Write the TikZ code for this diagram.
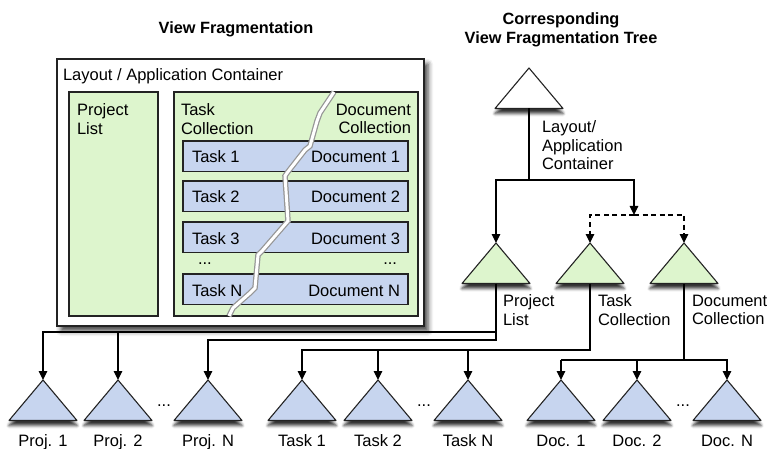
\documentclass[tikz,border=0pt]{standalone}
\usepackage{fontspec}
\setmainfont{Liberation Sans}
\usetikzlibrary{arrows.meta,shadows.blur,calc}

\definecolor{paneGreen}{RGB}{221,245,205}
\definecolor{rowBlue}{RGB}{199,213,239}
\definecolor{ink}{RGB}{35,35,35}
\definecolor{tearEdge}{RGB}{150,150,150}

% a view triangle: name, apex position, fill colour
\newcommand{\viewtri}[3]{%
  \coordinate (#1) at #2;
  \path[tri, fill=#3] (#1) -- ++(34,40.5) -- ++(-68,0) -- cycle;
  \coordinate (#1-b) at ($(#1)+(0,40.5)$);
}

\begin{document}
\begin{tikzpicture}[x=1pt, y=-1pt,
  every node/.style={inner sep=0pt, outer sep=0pt},
  txt/.style={font=\fontsize{16.5}{18.6}\selectfont},
  ttl/.style={font=\fontsize{16.3}{18.7}\selectfont\bfseries, align=center},
  box/.style={draw=ink, line width=1.1pt, rectangle, anchor=north west},
  pane/.style={box, fill=paneGreen, minimum height=224pt},
  row/.style={box, fill=rowBlue, minimum width=225pt, minimum height=30.5pt},
  tri/.style={draw=ink, line width=1.1pt, line join=round,
    blur shadow={shadow xshift=0pt, shadow yshift=-5pt, shadow blur radius=3pt, shadow opacity=80}},
  conn/.style={draw=black, line width=1.2pt},
  arr/.style={conn, -{Triangle[length=9pt,width=8.5pt]}},
  dasharr/.style={arr, dash pattern=on 5pt off 3.5pt},
]
\useasboundingbox (0,0) rectangle (768,449);

% ---------- titles ----------
\node[ttl, anchor=base] (t1) at (236,33.3) {View Fragmentation};
\node[ttl, anchor=north] (t2) at (561,12.5) {Corresponding\\View Fragmentation Tree};

% ---------- leaf rows of the tree ----------
\viewtri{p1}{(43,380)}{rowBlue}
\viewtri{p2}{(118,380)}{rowBlue}
\viewtri{pN}{(208,380)}{rowBlue}
\viewtri{k1}{(302,380)}{rowBlue}
\viewtri{k2}{(378,380)}{rowBlue}
\viewtri{kN}{(468,380)}{rowBlue}
\viewtri{d1}{(561,380)}{rowBlue}
\viewtri{d2}{(637,380)}{rowBlue}
\viewtri{dN}{(727,380)}{rowBlue}

\foreach \n/\s in {p1/Proj. 1, p2/Proj. 2, pN/Proj. N, k1/Task 1, k2/Task 2, kN/Task N, d1/Doc. 1, d2/Doc. 2, dN/Doc. N}
  \node[txt, anchor=base] (\n-l) at ($(\n)+(0,66.5)$) {\s};
\node[txt, anchor=base] (gapP) at (164,406) {...};
\node[txt, anchor=base] (gapK) at (424,406) {...};
\node[txt, anchor=base] (gapD) at (683,406) {...};

% ---------- middle level of the tree ----------
\viewtri{pl}{(496,243)}{paneGreen}
\viewtri{tc}{(590,243)}{paneGreen}
\viewtri{dc}{(684,243)}{paneGreen}
\node[txt, anchor=north west, align=left] (pl-l) at (503,295) {Project\\List};
\node[txt, anchor=north west, align=left] (tc-l) at (598,295) {Task\\Collection};
\node[txt, anchor=north west, align=left] (dc-l) at (692,295) {Document\\Collection};

% bus rows feeding the leaves
\coordinate (busP) at (0,332);
\coordinate (busN) at (0,340);
\coordinate (busK) at (0,350);
\coordinate (busD) at (0,360);

\draw[arr] (pl-b) -- (pl-b |- busP) -| (p1);
\draw[arr] (p2 |- busP) -- (p2);
\draw[arr] (pl-b) -- (pl-b |- busN) -| (pN);
\draw[arr] (tc-b) -- (tc-b |- busK) -| (k1);
\draw[arr] (k2 |- busK) -- (k2);
\draw[arr] (kN |- busK) -- (kN);
\draw[conn] (dc-b) -- (dc-b |- busD);
\draw[arr] (d1 |- busD) -- (d1);
\draw[arr] (d2 |- busD) -- (d2);
\draw[arr] (d1 |- busD) -| (dN);

% ---------- root of the tree ----------
\viewtri{root}{(529,68)}{white}
\node[txt, anchor=north west, align=left] (root-l) at (542,120.5) {Layout/\\Application\\Container};
\coordinate (split) at (529,180);
\coordinate (fork) at (634,215);
\draw[conn] (root-b) -- (split);
\draw[arr] (split) -| (pl);
\draw[arr] (split) -| (fork);
\draw[dasharr] (fork) -| (tc);
\draw[dasharr] (fork) -| (dc);

% ---------- the fragmented view ----------
\node[box, fill=white, minimum width=367pt, minimum height=267pt,
  blur shadow={shadow xshift=4pt, shadow yshift=-5pt, shadow blur radius=5pt, shadow opacity=75}] (app) at (57,59) {};
\node[txt, anchor=base west] (app-l) at (63,81) {Layout / Application Container};

\node[pane, minimum width=89pt] (plist) at (69,92) {};
\node[pane, minimum width=244pt] (coll) at (174,92) {};
\node[txt, anchor=north west, align=left] (plist-l) at (77,104) {Project\\List};
\node[txt, anchor=north west, align=left] (coll-t) at (181,104) {Task\\Collection};
\node[txt, anchor=north east, align=right] (coll-d) at (411,104) {Document\\Collection};

\node[row] (r1) at (183,141) {};
\node[row] (r2) at (183,181) {};
\node[row] (r3) at (183,222) {};
\node[row] (rN) at (183,274) {};

% the tear between the task half and the document half
\draw[white, line width=3pt, line join=miter,
  preaction={draw=tearEdge, line width=5.5pt}]
  (334,92) -- (320,113) -- (317,121) -- (310,146) -- (305,150) -- (287,173)
  -- (285,176) -- (288,221) -- (262,251) -- (258,255) -- (255,288)
  -- (250,293) -- (233,308) -- (229,316);

\foreach \r/\k in {r1/1, r2/2, r3/3, rN/N} {
  \node[txt, anchor=base west] (\r-t) at ($(\r.north west)+(9,22)$) {Task \k};
  \node[txt, anchor=base east] (\r-d) at ($(\r.north east)+(-8,22)$) {Document \k};
}
\node[txt, anchor=base west] (rowgapT) at (198,264) {...};
\node[txt, anchor=base east] (rowgapD) at (397,264) {...};

\end{tikzpicture}
\end{document}
